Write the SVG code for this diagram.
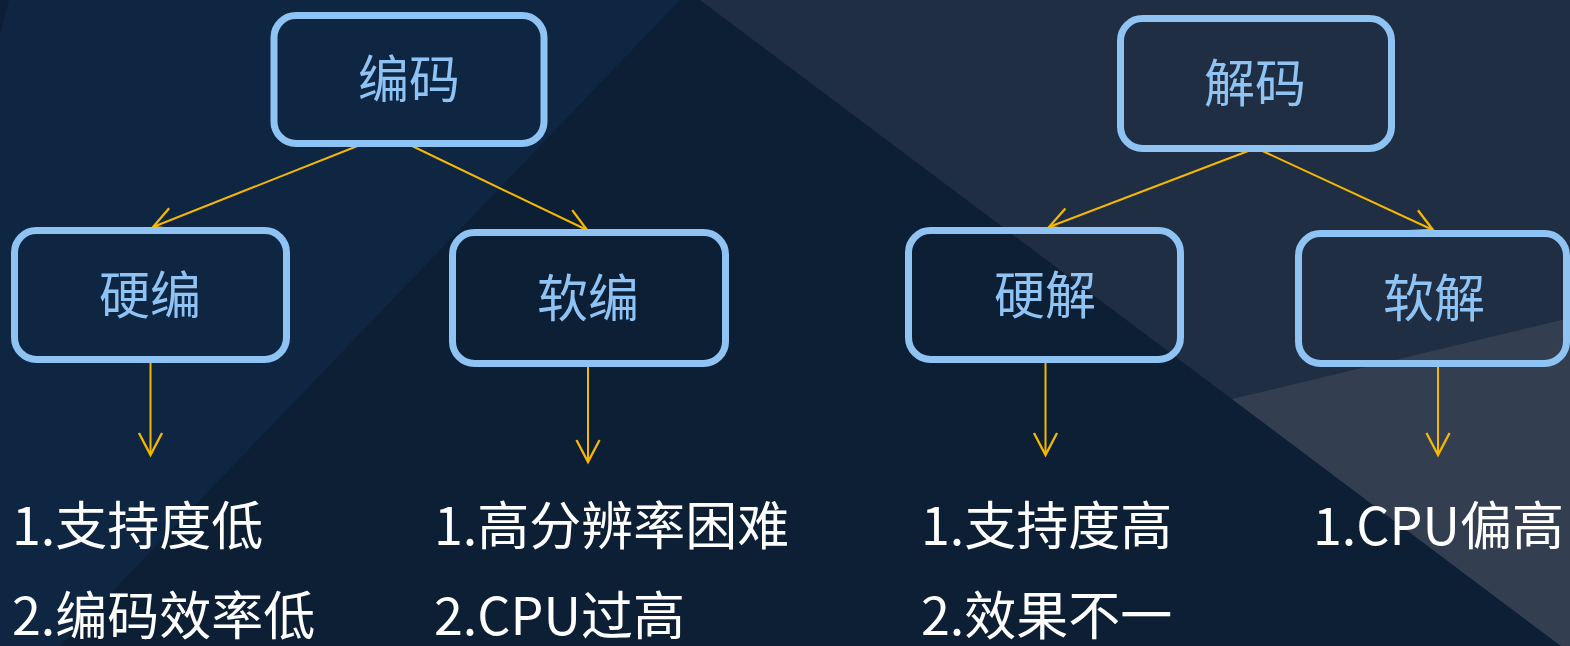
<svg xmlns="http://www.w3.org/2000/svg" width="1570" height="646" viewBox="0 0 1570 646">
<style>
.box{fill:none;stroke:#8fc3f3;stroke-width:7}
.lbl{font-family:"Noto Sans CJK SC","Microsoft YaHei",sans-serif;font-size:51px;fill:#8fc3f3;text-anchor:middle;dominant-baseline:central}
.txt{font-family:"Noto Sans CJK SC","Microsoft YaHei",sans-serif;font-size:52px;fill:#ffffff}
.con{fill:none;stroke:#f5b800;stroke-width:2;marker-end:url(#ah)}
</style>
<defs>
<marker id="ah" markerUnits="userSpaceOnUse" markerWidth="30" markerHeight="30" viewBox="-22 -12 26 24" refX="0" refY="0" orient="auto">
<path d="M-19,-10 L0,0 L-19,10" fill="none" stroke="#f5b800" stroke-width="2"/>
</marker>
</defs>
<g id="background">
<rect x="0" y="0" width="1570" height="646" fill="#0d1f35"/>
<polygon points="0,0 680,0 60,646 0,646" fill="#0f2642"/>
<polygon points="0,0 9,0 0,34" fill="#0c1f37"/>
<polygon points="700,0 1570,0 1570,646 1561,646" fill="#1f2e42"/>
<polygon points="1232,399 1570,318 1570,646 1561,646" fill="#343e51"/>
</g>
<g id="connectors">
<line class="con" x1="360" y1="145" x2="153" y2="227"/>
<line class="con" x1="410" y1="145" x2="587" y2="230"/>
<line class="con" x1="1256" y1="148" x2="1049" y2="227"/>
<line class="con" x1="1256" y1="148" x2="1433" y2="230"/>
<line class="con" x1="150.5" y1="362" x2="150.5" y2="455"/>
<line class="con" x1="588" y1="366" x2="588" y2="462"/>
<line class="con" x1="1045.5" y1="362" x2="1045.5" y2="455"/>
<line class="con" x1="1438" y1="366" x2="1438" y2="455"/>
</g>
<g id="node-encode">
<rect class="box" x="274" y="15.5" width="270" height="128" rx="22"/>
<text class="lbl" x="409" y="76">编码</text>
</g>
<g id="node-hw-encode">
<rect class="box" x="14.5" y="230.5" width="272" height="129" rx="22"/>
<text class="lbl" x="150" y="292">硬编</text>
</g>
<g id="node-sw-encode">
<rect class="box" x="452.5" y="232.5" width="273" height="131" rx="22"/>
<text class="lbl" x="588" y="295">软编</text>
</g>
<g id="node-decode">
<rect class="box" x="1120.5" y="18.5" width="271" height="130" rx="22"/>
<text class="lbl" x="1255" y="80">解码</text>
</g>
<g id="node-hw-decode">
<rect class="box" x="908.5" y="230.5" width="272" height="129" rx="22"/>
<text class="lbl" x="1045" y="292">硬解</text>
</g>
<g id="node-sw-decode">
<rect class="box" x="1298.5" y="233.5" width="268" height="130" rx="22"/>
<text class="lbl" x="1434" y="295">软解</text>
</g>
<g id="notes">
<text class="txt" x="12" y="545">1.支持度低</text>
<text class="txt" x="12" y="635">2.编码效率低</text>
<text class="txt" x="434" y="545">1.高分辨率困难</text>
<text class="txt" x="434" y="635">2.CPU过高</text>
<text class="txt" x="921" y="545">1.支持度高</text>
<text class="txt" x="921" y="635">2.效果不一</text>
<text class="txt" x="1313" y="545">1.CPU偏高</text>
</g>
</svg>
